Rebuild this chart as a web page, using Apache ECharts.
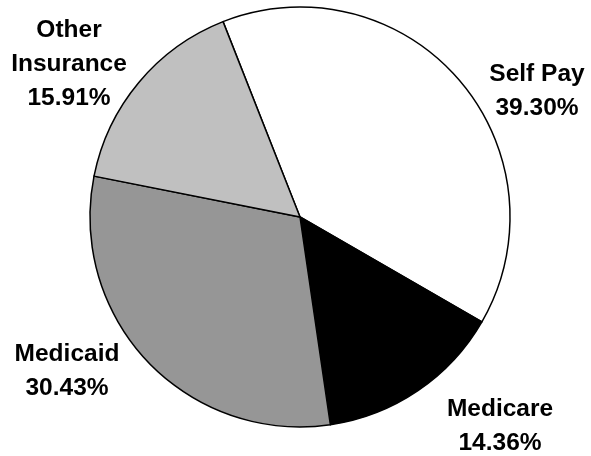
<!DOCTYPE html>
<html><head><meta charset="utf-8">
<script src="https://cdn.jsdelivr.net/npm/echarts@6/dist/echarts.min.js"></script>
<style>html,body{margin:0;padding:0;background:#fff}#c{width:591px;height:456px}</style>
</head><body><div id="c"></div>
<script>
var categories = ['Self Pay', 'Medicare', 'Medicaid', 'Other Insurance'];
var values = [39.30, 14.36, 30.43, 15.91];
var sliceColors = ['#ffffff', '#000000', '#969696', '#c0c0c0'];
var labelPos = [[537, 91], [500, 426], [67, 371], [69, 64]];

var chart = echarts.init(document.getElementById('c'), null, {renderer: 'canvas'});
chart.setOption({
  animation: false,
  series: [{
    type: 'pie',
    center: [300, 217],
    radius: [0, 210],
    startAngle: 111.5,
    clockwise: true,
    avoidLabelOverlap: false,
    data: categories.map(function (c, i) {
      return { name: c, value: values[i], itemStyle: { color: sliceColors[i] } };
    }),
    itemStyle: { borderColor: '#000', borderWidth: 1.5 },
    label: {
      show: true,
      position: 'outside',
      formatter: function (p) {
        var n = p.name.length > 10 ? p.name.replace(' ', '\n') : p.name;
        return n + '\n' + values[p.dataIndex].toFixed(2) + '%';
      },
      fontFamily: 'Liberation Sans',
      fontWeight: 'bold',
      fontSize: 24.5,
      lineHeight: 34,
      color: '#000',
      align: 'center'
    },
    labelLine: { show: false },
    labelLayout: function (p) {
      var pos = labelPos[p.dataIndex];
      return { x: pos[0], y: pos[1], align: 'center', verticalAlign: 'middle' };
    },
    emphasis: { disabled: true }
  }]
});
</script></body></html>
